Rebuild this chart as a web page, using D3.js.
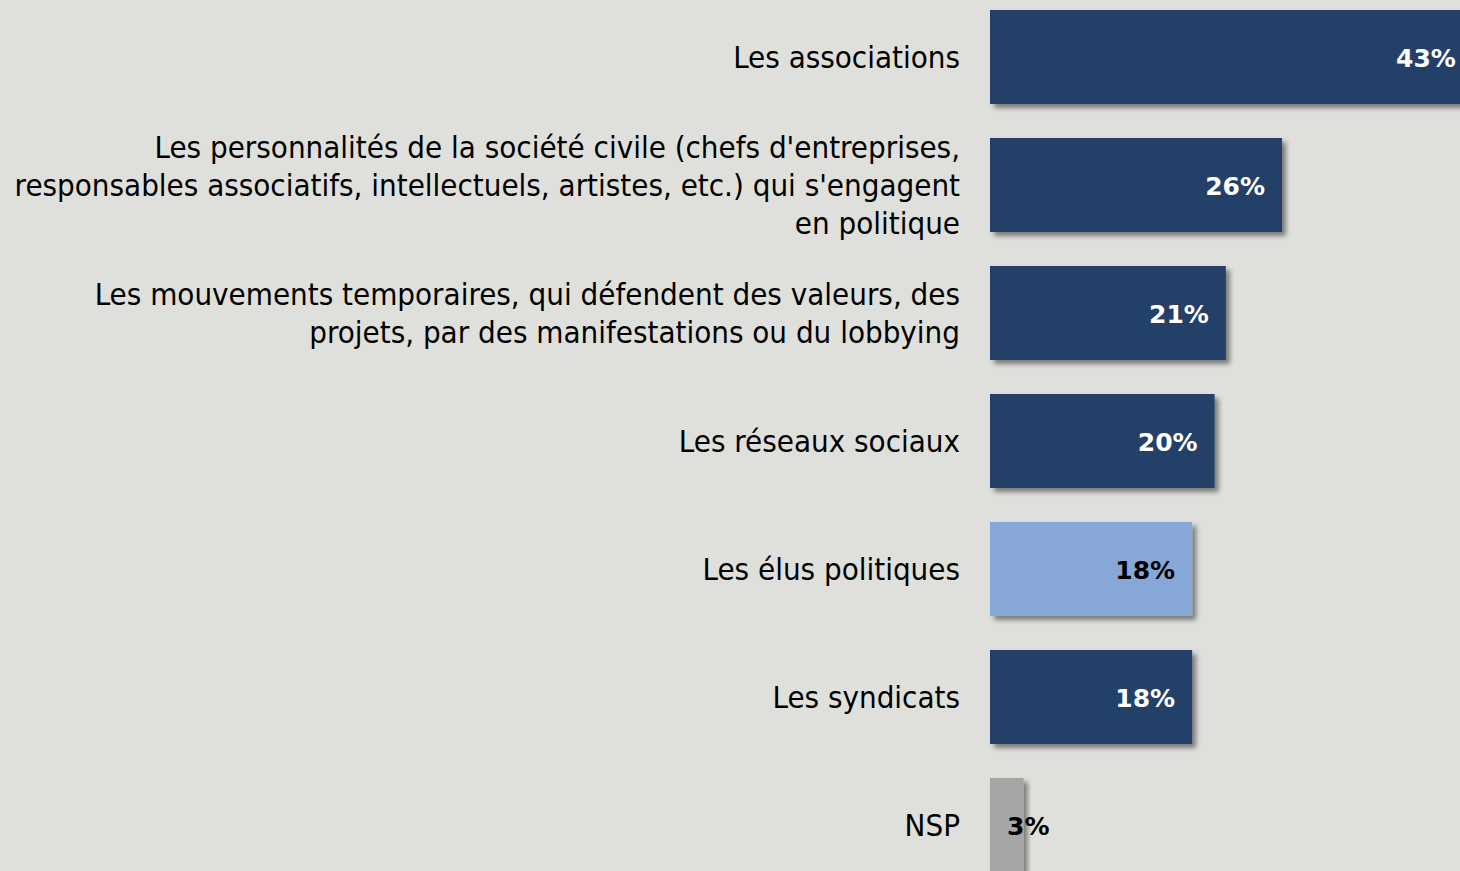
<!DOCTYPE html>
<html>
<head>
<meta charset="utf-8">
<script src="https://cdn.jsdelivr.net/npm/d3@7"></script>
<style>
  html, body { margin: 0; padding: 0; background: #dfe0db; overflow: hidden; }
  svg { display: block; }
  .cat { font-family: "DejaVu Sans", Verdana, sans-serif; font-stretch: condensed; font-size: 31px; fill: #000; }
  .val { font-family: "DejaVu Sans", Verdana, sans-serif; font-weight: bold; font-size: 25px; }
</style>
</head>
<body>
<div id="chart"></div>
<script>
// categories, one entry per bar; each label split in its lines
var categories = [
    ["Les associations"],
    ["Les personnalités de la société civile (chefs d'entreprises,",
     "responsables associatifs, intellectuels, artistes, etc.) qui s'engagent",
     "en politique"],
    ["Les mouvements temporaires, qui défendent des valeurs, des",
     "projets, par des manifestations ou du lobbying"],
    ["Les réseaux sociaux"],
    ["Les élus politiques"],
    ["Les syndicats"],
    ["NSP"]
];
var values = [43, 26, 21, 20, 18, 18, 3];
var kinds = ["main", "main", "main", "main", "highlight", "main", "nsp"];

var o = {
    width: 1460,
    height: 871,
    barLeft: 990,
    labelRight: 960,
    lineHeight: 38
};

var fills = { main: "#243f68", highlight: "#87a8d6", nsp: "#a6a6a6" };
var textFills = { main: "#ffffff", highlight: "#000000", nsp: "#000000" };

var svg = d3.select('#chart')
    .append('svg')
    .attr('width', o.width)
    .attr('height', o.height);

svg.append('rect')
    .attr('width', o.width)
    .attr('height', o.height)
    .attr('fill', '#dfe0db');

// soft shadow below and right of bars
var defs = svg.append('defs');
var f = defs.append('filter')
    .attr('id', 'shadow')
    .attr('x', '-10%').attr('y', '-10%')
    .attr('width', '130%').attr('height', '130%');
f.append('feDropShadow')
    .attr('dx', 4).attr('dy', 4)
    .attr('stdDeviation', 2.5)
    .attr('flood-color', '#000')
    .attr('flood-opacity', 0.45);

var idx = d3.range(values.length);

var y = d3.scaleBand()
    .domain(idx)
    .range([-7, 889])
    .paddingInner(34 / 128)
    .paddingOuter(17 / 128);

var x = d3.scaleLinear()
    .domain([0, 100])
    .range([0, 1123]);

var rows = svg.selectAll('g.row')
    .data(idx)
    .enter().append('g')
    .attr('class', 'row');

rows.append('rect')
    .attr('x', o.barLeft)
    .attr('y', function (i) { return y(i); })
    .attr('width', function (i) { return x(values[i]); })
    .attr('height', y.bandwidth())
    .attr('fill', function (i) { return fills[kinds[i]]; })
    .attr('filter', 'url(#shadow)');

// category labels, right aligned, centred on the bar
rows.each(function (i) {
    var lines = categories[i];
    var cy = y(i) + y.bandwidth() / 2;
    var t = d3.select(this).append('text')
        .attr('class', 'cat')
        .attr('text-anchor', 'end');
    lines.forEach(function (line, k) {
        t.append('tspan')
            .attr('x', o.labelRight)
            .attr('y', cy + (k - (lines.length - 1) / 2) * o.lineHeight)
            .attr('dy', '0.35em')
            .text(line);
    });
});

// value labels at the inside end of bars
rows.append('text')
    .attr('class', 'val')
    .attr('text-anchor', 'end')
    .attr('dy', '0.4em')
    .attr('y', function (i) { return y(i) + y.bandwidth() / 2; })
    .attr('fill', function (i) { return textFills[kinds[i]]; })
    .text(function (i) { return values[i] + '%'; })
    .attr('x', function (i) {
        var end = o.barLeft + x(values[i]) - 17;
        var w = this.getComputedTextLength();
        return Math.max(end, o.barLeft + 17 + w);
    });
</script>
</body>
</html>
